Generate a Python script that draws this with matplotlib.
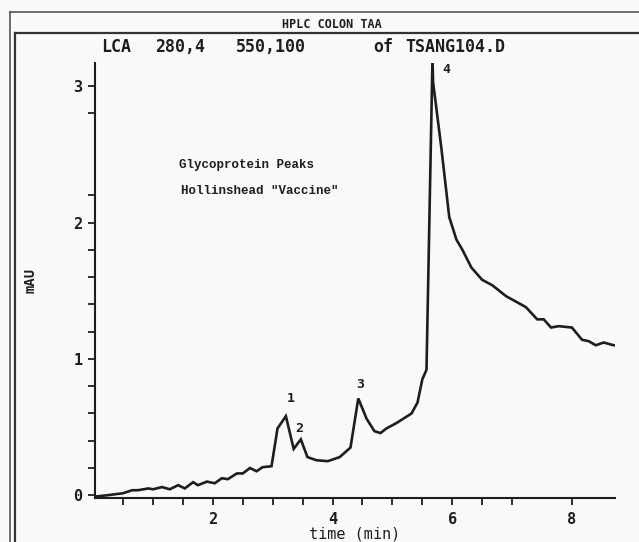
import matplotlib
matplotlib.use('Agg')
import matplotlib.pyplot as plt
from matplotlib.lines import Line2D

# chromatogram trace (time in min, absorbance in mAU)
time_min = [0.03, 0.23, 0.50, 0.65, 0.75, 0.92, 1.00, 1.15, 1.28, 1.42, 1.53, 1.67,
            1.75, 1.90, 2.03, 2.15, 2.25, 2.40, 2.50, 2.62, 2.73, 2.83, 2.98, 3.08,
            3.22, 3.35, 3.47, 3.58, 3.73, 3.92, 4.12, 4.30, 4.43, 4.57, 4.70, 4.80,
            4.90, 5.07, 5.32, 5.42, 5.50, 5.57, 5.67, 5.68, 5.82, 5.95, 6.07, 6.17,
            6.32, 6.50, 6.67, 6.90, 7.23, 7.42, 7.53, 7.65, 7.78, 8.00, 8.17, 8.28,
            8.40, 8.53, 8.70]
mau = [-0.01, 0.00, 0.015, 0.037, 0.037, 0.05, 0.044, 0.06, 0.044, 0.074, 0.05, 0.096,
       0.074, 0.10, 0.088, 0.125, 0.118, 0.16, 0.16, 0.20, 0.176, 0.206, 0.213, 0.49,
       0.58, 0.34, 0.41, 0.28, 0.257, 0.25, 0.28, 0.35, 0.71, 0.56, 0.47, 0.456,
       0.49, 0.53, 0.60, 0.68, 0.85, 0.92, 3.20, 3.03, 2.54, 2.04, 1.875, 1.80,
       1.67, 1.58, 1.54, 1.46, 1.38, 1.29, 1.29, 1.23, 1.24, 1.23, 1.14, 1.13,
       1.10, 1.12, 1.10]

peak_names = ['1', '2', '3', '4']
peak_t = [3.30, 3.45, 4.47, 5.90]
peak_y = [0.71, 0.49, 0.81, 3.12]

x_ticks = [2, 4, 6, 8]
x_minor = [0.5, 1, 1.5, 2.5, 3, 3.5, 4.5, 5, 5.5, 6.5, 7]
y_ticks = [0, 1, 2, 3]
y_minor = [0.2, 0.4, 0.6, 0.8, 1.2, 1.4, 1.6, 1.8, 2.2, 2.8]

ink = '#1e1e1e'
mono = 'DejaVu Sans Mono'

fig = plt.figure(figsize=(6.39, 5.42), dpi=100, facecolor='#f9f9f9')
ax = fig.add_axes([0.1487, 0.0812, 0.8137, 0.8026])
ax.set_facecolor('none')

ax.plot(time_min, mau, color=ink, linewidth=1.9, solid_joinstyle='miter')
for name, t, y in zip(peak_names, peak_t, peak_y):
    ax.text(t, y, name, fontsize=9.5, fontweight='bold', family=mono,
            ha='center', va='center', color=ink)

ax.set_xlim(0.03, 8.72)
ax.set_ylim(-0.02, 3.17)
for s in ['top', 'right']:
    ax.spines[s].set_visible(False)
for s in ['left', 'bottom']:
    ax.spines[s].set_linewidth(1.5)
    ax.spines[s].set_color(ink)

ax.set_xticks(x_ticks)
ax.set_xticks(x_minor, minor=True)
ax.set_yticks(y_ticks)
ax.set_yticks(y_minor, minor=True)
ax.tick_params(which='both', direction='out', length=5, width=1.3, color=ink,
               labelsize=11, labelcolor=ink)
ax.tick_params(axis='x', pad=5)
ax.tick_params(axis='y', pad=4)
for lab in ax.get_xticklabels() + ax.get_yticklabels():
    lab.set_fontweight('bold')
    lab.set_family(mono)

ax.set_xlabel('time (min)', fontsize=11, family=mono, color=ink, labelpad=0)
ax.set_ylabel('mAU', fontsize=10, family=mono, fontweight='bold', color=ink)
ax.yaxis.set_label_coords(-0.11, 0.5)

ax.text(0.162, 0.766, 'Glycoprotein Peaks', transform=ax.transAxes, va='center',
        fontsize=9, family='Liberation Mono', fontweight='bold', color=ink)
ax.text(0.165, 0.706, 'Hollinshead "Vaccine"', transform=ax.transAxes, va='center',
        fontsize=9, family='Liberation Mono', fontweight='bold', color=ink)

# page frame and header
W, H = 639.0, 542.0
frame = '#555555'
fig.add_artist(Line2D([10 / W, 1], [1 - 12 / H] * 2, color=frame, lw=1.2))
fig.add_artist(Line2D([10 / W] * 2, [0, 1 - 12 / H], color=frame, lw=1.2))
fig.add_artist(Line2D([15 / W, 1], [1 - 33 / H] * 2, color='#333333', lw=1.6))
fig.add_artist(Line2D([15 / W] * 2, [0, 1 - 33 / H], color='#333333', lw=1.6))

fig.text(332 / W, 1 - 25 / H, 'HPLC COLON TAA', fontsize=8.5, family=mono,
         fontweight='bold', ha='center', va='center', color=ink)
header = [('LCA', 101), ('280,4', 155), ('550,100', 236), ('of', 373), ('TSANG104.D', 405)]
for txt, px in header:
    fig.text(px / W, 1 - 47 / H, txt, fontsize=12, family=mono, fontweight='bold',
             ha='left', va='center', color=ink)

fig.savefig('out.png', dpi=100, facecolor=fig.get_facecolor())
